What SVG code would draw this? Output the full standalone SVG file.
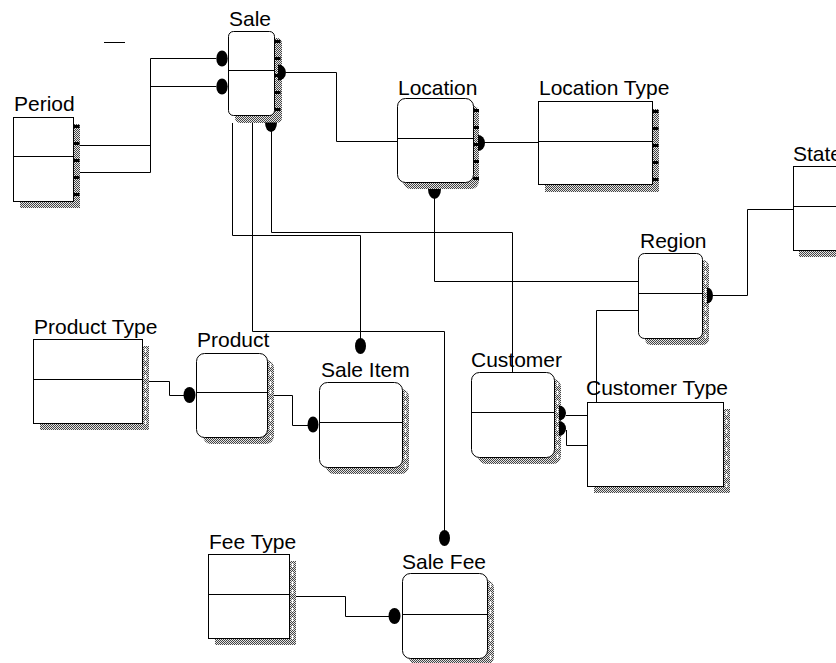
<svg xmlns="http://www.w3.org/2000/svg" width="836" height="663" viewBox="0 0 836 663">
  <style>
    .box { fill: #fff; stroke: #000; stroke-width: 1; }
    .div { stroke: #000; stroke-width: 1; fill: none; }
    .shadow { fill: url(#dither); stroke: none; }
    .tickB { stroke: #000; stroke-width: 6; stroke-dasharray: 3 14; fill: none; }
    .tickW { stroke: #fff; stroke-width: 1.5; stroke-dasharray: 4 5; fill: none; }
    .label { font-family: "Liberation Sans", Arial, sans-serif; font-size: 21px; fill: #000; }
    .wire { stroke: #000; stroke-width: 1; fill: none; }
    .dot { fill: #000; stroke: none; }
  </style>
  <defs>
    <pattern id="dither" width="2" height="2" patternUnits="userSpaceOnUse">
      <rect width="2" height="2" fill="#e6e6e6"/>
      <rect width="1" height="1" fill="#444"/>
      <rect x="1" y="1" width="1" height="1" fill="#444"/>
    </pattern>
  </defs>

  <rect width="836" height="663" fill="#fff"/>

  <!-- stray mark -->
  <line x1="104" y1="42.5" x2="125" y2="42.5" stroke="#000" stroke-width="1"/>

  <!-- Period -->
  <g id="period">
    <rect class="shadow" x="20" y="124" width="60" height="84"/>
    <line class="tickB" x1="76.5" y1="125" x2="76.5" y2="207"/>
    <rect class="box" x="13.5" y="117.5" width="60" height="84"/>
    <line class="div" x1="13.5" y1="156.5" x2="73.5" y2="156.5"/>
    <text class="label" x="14" y="111">Period</text>
  </g>

  <!-- Sale -->
  <g id="sale">
    <rect class="shadow" x="235" y="38" width="47" height="85" rx="5"/>
    <line class="tickB" x1="277.5" y1="40" x2="277.5" y2="118"/>
    <rect class="box" x="228.5" y="31.5" width="46" height="84" rx="5"/>
    <line class="div" x1="228.5" y1="70.5" x2="274.5" y2="70.5"/>
    <text class="label" x="229" y="26">Sale</text>
  </g>

  <!-- Location -->
  <g id="location">
    <rect class="shadow" x="403" y="105" width="76" height="84" rx="8"/>
    <line class="tickB" x1="476" y1="109" x2="476" y2="184"/>
    <rect class="box" x="397.5" y="98.5" width="76" height="84" rx="8"/>
    <line class="div" x1="397.5" y1="138.5" x2="473.5" y2="138.5"/>
    <text class="label" x="398" y="95">Location</text>
  </g>

  <!-- Location Type -->
  <g id="location-type">
    <rect class="shadow" x="545" y="109" width="114" height="83"/>
    <line class="tickB" x1="655.5" y1="110" x2="655.5" y2="191"/>
    <rect class="box" x="538.5" y="101.5" width="114" height="83"/>
    <line class="div" x1="538.5" y1="141.5" x2="652.5" y2="141.5"/>
    <text class="label" x="539" y="95">Location Type</text>
  </g>

  <!-- State -->
  <g id="state">
    <rect class="shadow" x="799" y="173" width="60" height="84"/>
    <rect class="box" x="793.5" y="166.5" width="60" height="84"/>
    <line class="div" x1="793.5" y1="206.5" x2="853.5" y2="206.5"/>
    <text class="label" x="793" y="161">State</text>
  </g>

  <!-- Region -->
  <g id="region">
    <rect class="shadow" x="645" y="260" width="64" height="85" rx="6"/>
    <line class="tickW" x1="705.5" y1="262" x2="705.5" y2="340"/>
    <rect class="box" x="638.5" y="253.5" width="64" height="85" rx="6"/>
    <line class="div" x1="638.5" y1="293.5" x2="702.5" y2="293.5"/>
    <text class="label" x="640" y="248">Region</text>
  </g>

  <!-- Product Type -->
  <g id="product-type">
    <rect class="shadow" x="40" y="346" width="109" height="84"/>
    <line class="tickW" x1="145.5" y1="348" x2="145.5" y2="426"/>
    <rect class="box" x="33.5" y="339.5" width="109" height="84"/>
    <line class="div" x1="33.5" y1="379.5" x2="142.5" y2="379.5"/>
    <text class="label" x="34" y="334">Product Type</text>
  </g>

  <!-- Product -->
  <g id="product">
    <rect class="shadow" x="203" y="360" width="71" height="84" rx="8"/>
    <line class="tickW" x1="270.5" y1="363" x2="270.5" y2="438"/>
    <rect class="box" x="196.5" y="353.5" width="71" height="84" rx="8"/>
    <line class="div" x1="196.5" y1="392.5" x2="267.5" y2="392.5"/>
    <text class="label" x="197" y="347">Product</text>
  </g>

  <!-- Sale Item -->
  <g id="sale-item">
    <rect class="shadow" x="326" y="389" width="83" height="85" rx="8"/>
    <line class="tickW" x1="405.5" y1="392" x2="405.5" y2="468"/>
    <rect class="box" x="319.5" y="382.5" width="83" height="85" rx="8"/>
    <line class="div" x1="319.5" y1="422.5" x2="402.5" y2="422.5"/>
    <text class="label" x="321" y="377">Sale Item</text>
  </g>

  <!-- Customer -->
  <g id="customer">
    <rect class="shadow" x="478" y="379" width="83" height="85" rx="8"/>
    <line class="tickW" x1="557.5" y1="382" x2="557.5" y2="458"/>
    <rect class="box" x="471.5" y="372.5" width="83" height="85" rx="8"/>
    <line class="div" x1="471.5" y1="412.5" x2="554.5" y2="412.5"/>
    <text class="label" x="471" y="367">Customer</text>
  </g>

  <!-- Customer Type -->
  <g id="customer-type">
    <rect class="shadow" x="594" y="409" width="136" height="84"/>
    <line class="tickW" x1="726.5" y1="411" x2="726.5" y2="489"/>
    <rect class="box" x="587.5" y="402.5" width="136" height="84"/>
    <text class="label" x="586" y="395">Customer Type</text>
  </g>

  <!-- Fee Type -->
  <g id="fee-type">
    <rect class="shadow" x="215" y="561" width="81" height="84"/>
    <line class="tickW" x1="292.5" y1="563" x2="292.5" y2="641"/>
    <rect class="box" x="208.5" y="554.5" width="81" height="84"/>
    <line class="div" x1="208.5" y1="594.5" x2="289.5" y2="594.5"/>
    <text class="label" x="209" y="549">Fee Type</text>
  </g>

  <!-- Sale Fee -->
  <g id="sale-fee">
    <rect class="shadow" x="409" y="580" width="85" height="85" rx="8"/>
    <line class="tickW" x1="490.5" y1="583" x2="490.5" y2="660"/>
    <rect class="box" x="402.5" y="573.5" width="85" height="85" rx="8"/>
    <line class="div" x1="402.5" y1="614.5" x2="487.5" y2="614.5"/>
    <text class="label" x="402" y="569">Sale Fee</text>
  </g>

  <!-- Relationship lines with their end dots -->
  <g id="connectors">
    <!-- Sale / Period -->
    <path class="wire" d="M216,58.5 H150.5 V145.5 H80"/>
    <path class="wire" d="M216,86.5 H150.5 V172.5 H80"/>
    <ellipse class="dot" cx="222" cy="58.5" rx="5.7" ry="8"/>
    <ellipse class="dot" cx="222" cy="86.5" rx="5.7" ry="8"/>

    <!-- Sale / Location -->
    <path class="wire" d="M286,72.5 H336.5 V141.5 H397.5"/>
    <path class="dot" d="M278,64.5 A8,8 0 0 1 278,80.5 Z"/>

    <!-- Location / Location Type -->
    <path class="wire" d="M484,142.5 H538.5"/>
    <path class="dot" d="M478,135 A7,8 0 0 1 478,151 Z"/>

    <!-- Location / Region -->
    <path class="wire" d="M434.5,198 V281.5 H638.5"/>
    <path class="dot" d="M428,189 A6.5,10 0 0 0 441,189 Z"/>

    <!-- Region / State -->
    <path class="wire" d="M713,295.5 H747.5 V209.5 H793.5"/>
    <path class="dot" d="M707,287.5 A6,8 0 0 1 707,303.5 Z"/>

    <!-- Region / Customer Type -->
    <path class="wire" d="M638.5,310.5 H596.5 V402.5"/>

    <!-- Sale / Sale Item -->
    <path class="wire" d="M232.5,123 V235.5 H360.5 V339"/>
    <ellipse class="dot" cx="360.5" cy="346" rx="5.5" ry="8"/>

    <!-- Sale / Sale Fee -->
    <path class="wire" d="M252.5,123 V331.5 H444.5 V531"/>
    <ellipse class="dot" cx="444.5" cy="538" rx="5.5" ry="8"/>

    <!-- Sale / Customer -->
    <path class="wire" d="M271.5,131 V232.5 H512.5 V372.5"/>
    <path class="dot" d="M265,122.5 A6,9.5 0 0 0 277,122.5 Z"/>

    <!-- Customer / Customer Type -->
    <path class="wire" d="M566,415.5 H587.5"/>
    <path class="wire" d="M566.5,430 V445.5 H587.5"/>
    <path class="dot" d="M559,405.5 A7,7.5 0 0 1 559,420.5 Z"/>
    <path class="dot" d="M559,421 A7,7.5 0 0 1 559,436 Z"/>

    <!-- Product Type / Product -->
    <path class="wire" d="M149,381.5 H169.5 V395.5 H184"/>
    <ellipse class="dot" cx="189.5" cy="395" rx="6" ry="8"/>

    <!-- Product / Sale Item -->
    <path class="wire" d="M274,395.5 H292.5 V425.5 H308"/>
    <ellipse class="dot" cx="313" cy="424.5" rx="5.5" ry="8"/>

    <!-- Fee Type / Sale Fee -->
    <path class="wire" d="M296,596.5 H345.5 V616.5 H389"/>
    <ellipse class="dot" cx="394.5" cy="616" rx="6" ry="8"/>
  </g>
</svg>
